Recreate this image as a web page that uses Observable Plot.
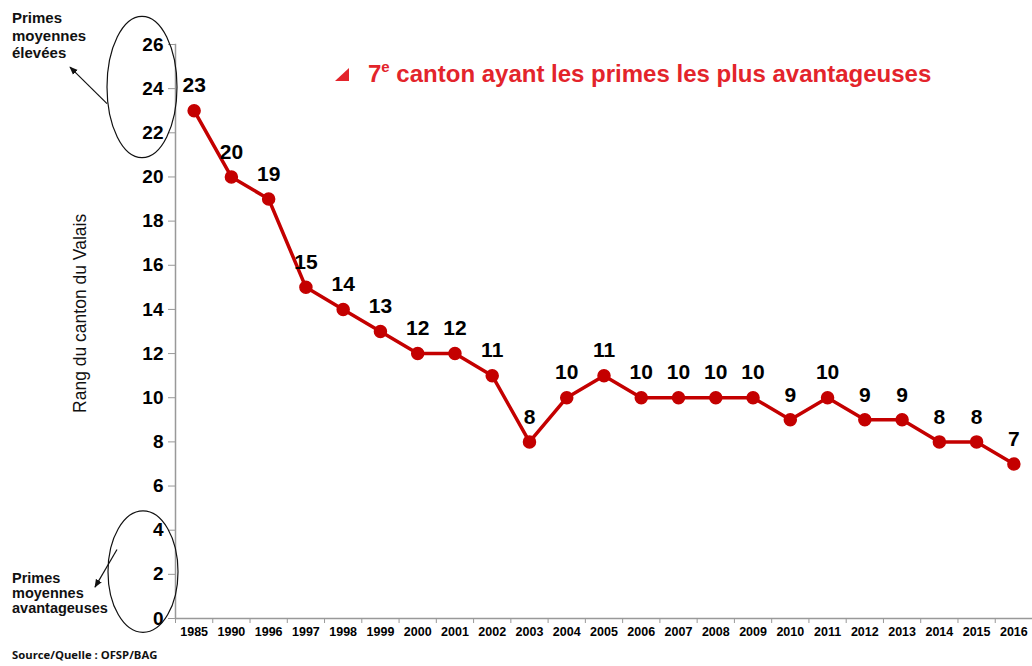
<!DOCTYPE html>
<html>
<head>
<meta charset="utf-8">
<script src="https://cdn.jsdelivr.net/npm/d3@7"></script>
<script src="https://cdn.jsdelivr.net/npm/@observablehq/plot@0.6"></script>
<style>
  html, body { margin: 0; padding: 0; background: #fff; }
  #wrap { position: relative; width: 1032px; height: 666px; font-family: "Liberation Sans", Arial, sans-serif; }
  #legend { position: absolute; left: 335px; top: 60px; color: #e3242b; font-weight: bold; font-size: 24px; white-space: nowrap; }
  #legend .tri { display: inline-block; width: 0; height: 0; border-left: 14px solid transparent; border-bottom: 13px solid #e3242b; margin-right: 19px; vertical-align: 1px; }
  #legend sup { font-size: 15px; vertical-align: 10px; line-height: 0; }
</style>
</head>
<body>
<div id="wrap">
  <div id="chart"></div>
  <div id="legend"><span class="tri"></span>7<sup>e</sup> canton ayant les primes les plus avantageuses</div>
</div>
<script>
const years = ["1985","1990","1996","1997","1998","1999","2000","2001","2002","2003","2004","2005","2006","2007","2008","2009","2010","2011","2012","2013","2014","2015","2016"];
const ranks = [23,20,19,15,14,13,12,12,11,8,10,11,10,10,10,10,9,10,9,9,8,8,7];
const yTicks = [0,2,4,6,8,10,12,14,16,18,20,22,24,26];
const yLabel = "Rang du canton du Valais";
const noteHigh = ["Primes", "moyennes", "élevées"];
const noteLow = ["Primes", "moyennes", "avantageuses"];
const source = "Source/Quelle : OFSP/BAG";

const data = years.map((y, i) => ({year: y, rank: ranks[i]}));

const W = 1032, H = 666, ML = 175, MR = 0, MT = 44, MB = 48;
const step = (W - ML - MR) / years.length;
const red = "#c40000";

const plot = Plot.plot({
  width: W, height: H,
  marginLeft: ML, marginRight: MR, marginTop: MT, marginBottom: MB,
  style: {fontFamily: "Liberation Sans, Arial, sans-serif", color: "#000", background: "#fff"},
  x: {type: "point", domain: years, padding: 0.5, round: false},
  y: {domain: [0, 26]},
  marks: [
    Plot.ruleY([0], {stroke: "#999", strokeWidth: 1.5}),
    Plot.frame({anchor: "left", stroke: "#999", strokeWidth: 1.5}),
    Plot.axisY({ticks: yTicks, tickSize: 7, tickPadding: 5, fontSize: 19, fontWeight: "bold", stroke: "#999", fill: "#000", label: null}),
    Plot.axisX({tickSize: 0, tickPadding: 9, fontSize: 12.5, fontWeight: "bold", fill: "#000", label: null}),
    Plot.axisX({tickSize: 5, tickFormat: () => "", dx: -step / 2, stroke: "#999", label: null}),
    Plot.line(data, {x: "year", y: "rank", stroke: red, strokeWidth: 3.5}),
    Plot.dot(data, {x: "year", y: "rank", r: 6, fill: red, stroke: red}),
    Plot.text(data, {x: "year", y: "rank", text: d => String(d.rank), dy: -25, fontSize: 21, fontWeight: "bold", fill: "#000"})
  ]
});
document.getElementById("chart").appendChild(plot);

// annotations in the left margin, placed on the y scale
const ys = plot.scale("y");
const svg = d3.select(plot);
const defs = svg.append("defs");
defs.append("marker").attr("id", "ah").attr("viewBox", "0 0 10 10").attr("refX", 9).attr("refY", 5)
  .attr("markerWidth", 7).attr("markerHeight", 7).attr("orient", "auto")
  .append("path").attr("d", "M0,1 L10,5 L0,9 Z").attr("fill", "#111");

const g = svg.append("g").attr("fill", "none").attr("stroke", "#111").attr("stroke-width", 1.2);
g.append("ellipse").attr("cx", 142).attr("cy", ys.apply(24.05)).attr("rx", 35).attr("ry", ys.apply(0) - ys.apply(3.2));
g.append("ellipse").attr("cx", 143).attr("cy", ys.apply(2.1)).attr("rx", 35).attr("ry", ys.apply(0) - ys.apply(2.75));
g.append("line").attr("x1", 107).attr("y1", ys.apply(23.3)).attr("x2", 70).attr("y2", ys.apply(25) + 1).attr("marker-end", "url(#ah)");
g.append("line").attr("x1", 117).attr("y1", ys.apply(3.1)).attr("x2", 95).attr("y2", ys.apply(1.4)).attr("marker-end", "url(#ah)");

const t = svg.append("g").attr("font-family", "Liberation Sans, Arial, sans-serif").attr("font-weight", "bold")
  .attr("fill", "#111").attr("text-anchor", "start");
noteHigh.forEach((s, i) => t.append("text").attr("x", 12).attr("y", 23 + i * 17.5).attr("font-size", 15).text(s));
noteLow.forEach((s, i) => t.append("text").attr("x", 12).attr("y", 583 + i * 14.8).attr("font-size", 14.5).text(s));
t.append("text").attr("x", 12).attr("y", 659).attr("font-size", 11.3).attr("font-family", "Open Sans, sans-serif").text(source);

svg.append("text").attr("transform", `translate(86,${ys.apply(13.8)}) rotate(-90)`).attr("text-anchor", "middle")
  .attr("font-family", "Liberation Sans, Arial, sans-serif").attr("font-size", 17.5).attr("fill", "#111").text(yLabel);
</script>
</body>
</html>
